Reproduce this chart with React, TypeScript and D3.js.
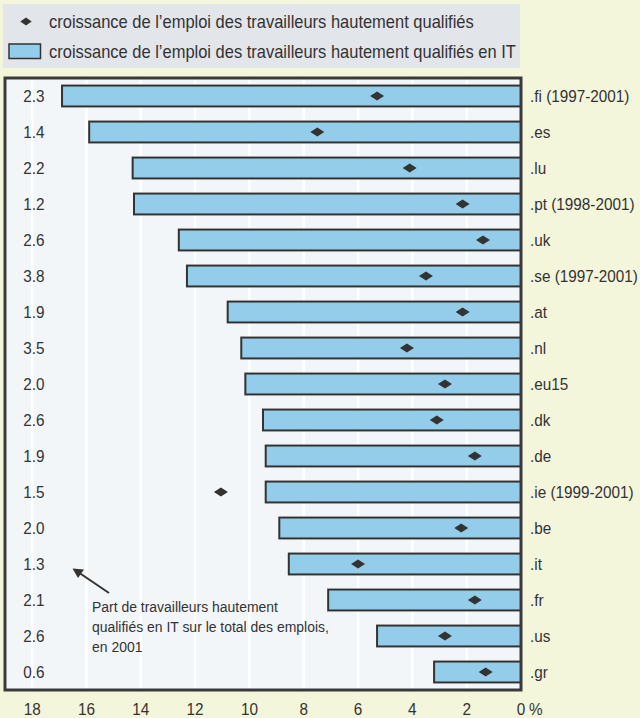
import React from "react";
import * as d3 from "d3";

const countries = [".fi (1997-2001)", ".es", ".lu", ".pt (1998-2001)", ".uk", ".se (1997-2001)", ".at", ".nl", ".eu15", ".dk", ".de", ".ie (1999-2001)", ".be", ".it", ".fr", ".us", ".gr"];
const itShare = ["2.3", "1.4", "2.2", "1.2", "2.6", "3.8", "1.9", "3.5", "2.0", "2.6", "1.9", "1.5", "2.0", "1.3", "2.1", "2.6", "0.6"];
const itGrowth = [16.9, 15.9, 14.3, 14.25, 12.6, 12.3, 10.8, 10.3, 10.15, 9.5, 9.4, 9.4, 8.9, 8.55, 7.1, 5.3, 3.2];
const growth = [5.3, 7.5, 4.1, 2.15, 1.4, 3.5, 2.15, 4.2, 2.8, 3.1, 1.7, 11.05, 2.2, 6.0, 1.7, 2.8, 1.3];
const ticks = [18, 16, 14, 12, 10, 8, 6, 4, 2, 0];
const legendLabels = [
  "croissance de l\u2019emploi des travailleurs hautement qualifiés",
  "croissance de l\u2019emploi des travailleurs hautement qualifiés en IT",
];
const noteLines = ["Part de travailleurs hautement", "qualifiés en IT sur le total des emplois,", "en 2001"];

const FONT = "'Liberation Sans', Arial, sans-serif";
const TEXT = "#333333";

function CText({ x, y, size = 17, sx = 0.9, anchor = "start", children }: { x: number; y: number; size?: number; sx?: number; anchor?: string; children: React.ReactNode }) {
  return (
    <text transform={`translate(${x},${y}) scale(${sx},1)`} dy="0.36em" fontSize={size} textAnchor={anchor} fill={TEXT}>
      {children}
    </text>
  );
}

export default function App() {
  const W = 640, H = 718;
  const left = 5, right = 521, top = 78, bottom = 690;
  const x = d3.scaleLinear().domain([0, 19]).range([right, left]);
  const y = d3.scaleBand<string>().domain(countries).range([top, bottom]).paddingInner(0.42).paddingOuter(0.21);
  const bw = y.bandwidth();
  const diamond = (cx: number, cy: number, hw: number, hh: number) =>
    `M${cx - hw},${cy}L${cx},${cy - hh}L${cx + hw},${cy}L${cx},${cy + hh}Z`;

  return (
    <svg width={W} height={H} style={{ position: "absolute", left: 0, top: 0, fontFamily: FONT }}>
      <rect x={0} y={0} width={W} height={H} fill="#f4f6dc" />
      {/* legend */}
      <rect x={3} y={4} width={517} height={64} fill="#e2e5e9" />
      <path d={diamond(26, 21.5, 5.7, 4)} fill={TEXT} />
      <CText x={49} y={21.5} size={18} sx={0.915}>{legendLabels[0]}</CText>
      <rect x={9} y={44} width={31.5} height={14.5} fill="#94cdea" stroke={TEXT} strokeWidth={1.5} />
      <CText x={49} y={51.5} size={18} sx={0.915}>{legendLabels[1]}</CText>

      {/* plot area */}
      <rect x={left} y={top} width={right - left} height={bottom - top} fill="#f2f6f9" />
      {ticks.filter((t) => t > 0).map((t) => (
        <line key={t} x1={x(t)} x2={x(t)} y1={top} y2={bottom} stroke="#ffffff" strokeWidth={2.5} />
      ))}
      {countries.map((c, i) => {
        const cy = (y(c) as number) + bw / 2;
        return (
          <g key={c}>
            <rect x={x(itGrowth[i])} y={y(c)} width={x(0) - x(itGrowth[i])} height={bw}
              fill="#94cdea" stroke={TEXT} strokeWidth={2} />
            <path d={diamond(x(growth[i]), cy, 7, 4.5)} fill={TEXT} />
            <CText x={34} y={cy} anchor="middle">{itShare[i]}</CText>
            <CText x={530} y={cy}>{c}</CText>
          </g>
        );
      })}
      <rect x={left} y={top} width={right - left} height={bottom - top} fill="none" stroke="#3a3a3a" strokeWidth={3} />

      {/* annotation */}
      <line x1={109} y1={593} x2={78} y2={572} stroke={TEXT} strokeWidth={2} />
      <path d="M72.5,568.5L84,569.5L78,578Z" fill={TEXT} />
      {noteLines.map((l, i) => (
        <CText key={i} x={92} y={606 + i * 20} size={15.5} sx={0.9}>{l}</CText>
      ))}

      {/* x axis labels */}
      {ticks.map((t) => (
        <CText key={t} x={x(t)} y={709} anchor="middle">{t}</CText>
      ))}
      <CText x={x(0) + 8} y={709}>%</CText>
    </svg>
  );
}
